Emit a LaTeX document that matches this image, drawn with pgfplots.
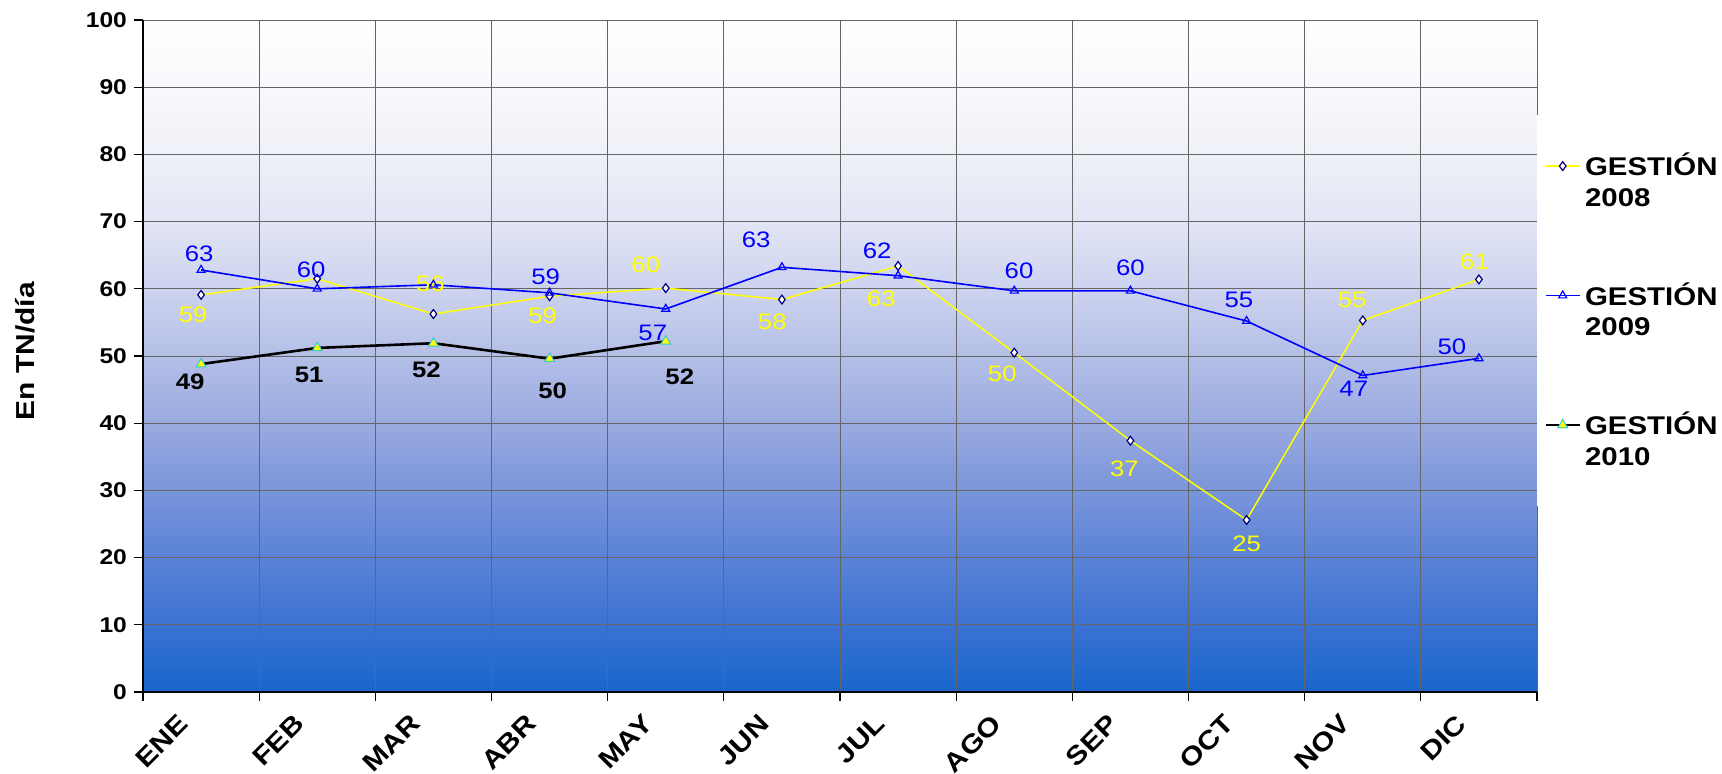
\documentclass[border=0pt]{standalone}
\usepackage{fontspec}
\setmainfont{Liberation Sans}[FakeStretch=1.15]
\usepackage{pgfplots}
\usepackage{pgfplotstable}
\pgfplotsset{compat=1.18}

\definecolor{amarillo}{HTML}{FFFF00}
\definecolor{azul}{HTML}{0000FF}
\definecolor{marino}{HTML}{000080}
\definecolor{turquesa}{HTML}{33CCCC}
% degradado del fondo, de abajo (0) a arriba (100)
\definecolor{g0}{HTML}{1866CC}
\definecolor{g10}{HTML}{3B72D2}
\definecolor{g20}{HTML}{5A82D6}
\definecolor{g30}{HTML}{7A95DA}
\definecolor{g40}{HTML}{9AAAE0}
\definecolor{g50}{HTML}{B4BFE7}
\definecolor{g60}{HTML}{CDD3EF}
\definecolor{g70}{HTML}{E2E5F4}
\definecolor{g80}{HTML}{EFF1F8}
\definecolor{g90}{HTML}{F8F9FC}
\definecolor{g100}{HTML}{FFFFFF}
\pgfdeclareverticalshading{fondo}{100bp}{color(0bp)=(g0); color(25bp)=(g0);
  color(30bp)=(g10); color(35bp)=(g20); color(40bp)=(g30); color(45bp)=(g40);
  color(50bp)=(g50); color(55bp)=(g60); color(60bp)=(g70); color(65bp)=(g80);
  color(70bp)=(g90); color(75bp)=(g100); color(100bp)=(g100)}

\newcommand\fdatos{\fontsize{11.2}{13}\selectfont}

% x valor etiqueta desplazamiento-x desplazamiento-y (pt)
\pgfplotstableread{
x y lab dx dy
1 59.1 59 -4 -10
2 61.5 {} 0 0
3 56.25 56 -1.5 15
4 58.9 59 -3.5 -10
5 60.1 60 -10 11.5
6 58.4 58 -4.8 -11.3
7 63.4 63 -8.4 -16.3
8 50.5 50 -6 -10.7
9 37.4 37 -3 -14.2
10 25.6 25 0 -11.7
11 55.3 55 -5.3 10.2
12 61.4 61 -2.2 8.7
}\gestionA

\pgfplotstableread{
x y lab dx dy
1 62.8 63 -1 8
2 60.0 60 -3 9.5
3 60.6 {} 0 0
4 59.4 59 -2 8
5 57.0 57 -6.5 -12
6 63.2 63 -12.9 14
7 61.95 62 -10.5 12.5
8 59.7 60 2.4 10
9 59.7 60 0 11.7
10 55.2 55 -3.8 10.5
11 47.1 47 -4.5 -6.7
12 49.65 50 -13.5 5.8
}\gestionB

\pgfplotstableread{
x y lab dx dy
1 48.8 49 -5.5 -9
2 51.2 51 -4 -13.5
3 51.9 52 -3.5 -13.5
4 49.6 50 1.5 -16
5 52.2 52 7 -18
}\gestionC

\begin{document}
\begin{tikzpicture}
\begin{axis}[
  scale only axis, width=697pt, height=336pt,
  at={(0,0)}, anchor=south west,
  xmin=0.5, xmax=12.5, ymin=0, ymax=100,
  axis x line*=bottom, axis y line*=left,
  axis line style={-, black, line width=0.9pt},
  axis background/.style={shade, shading=fondo},
  xtick={1,...,12},
  xticklabels={ENE,FEB,MAR,ABR,MAY,JUN,JUL,AGO,SEP,OCT,NOV,DIC},
  minor xtick={0.5,1.5,...,12.5},
  ytick={0,10,...,100},
  xmajorgrids=false, xminorgrids=true, ymajorgrids=true,
  grid style={black!60, line width=0.5pt},
  minor grid style={black!60, line width=0.5pt},
  tick align=outside,
  major tick length=4.5pt, minor tick length=4.5pt,
  tick style={black, line width=0.6pt},
  major x tick style={draw=none},
  /pgf/number format/assume math mode=true,
  yticklabel style={font=\fontsize{10.7}{12}\selectfont\bfseries},
  xticklabel style={font=\fontsize{13}{15}\selectfont\bfseries,
    xshift=-12pt, yshift=-1pt, rotate=45, anchor=north east},
  ylabel={En TN/día},
  every axis y label/.style={at={(axis description cs:-0.0846,0.507)},
    rotate=90, anchor=center, font=\fontsize{13}{15}\selectfont\bfseries},
  legend image code/.code={
    \draw[mark repeat=2, mark phase=2, #1] plot coordinates {(0pt,7.6pt) (8.5pt,7.6pt) (17pt,7.6pt)};
    \path (0pt,-7.6pt);},
  legend style={at={(rel axis cs:1,0.8586)}, anchor=north west,
    draw=none, fill=white, font=\fontsize{12.8}{15.2}\selectfont\bfseries,
    cells={align=left, anchor=west}, row sep=32.7pt,
    inner xsep=3.5pt, inner ysep=16.9pt},
  visualization depends on={\thisrow{dx} \as \dx},
  visualization depends on={\thisrow{dy} \as \dy},
  point meta=explicit symbolic,
]
\addplot[amarillo, line width=0.75pt, mark=diamond*,
  mark options={fill=white, draw=marino, line width=0.6pt, mark size=2.2pt},
  nodes near coords,
  nodes near coords style={anchor=center, xshift=\dx pt, yshift=\dy pt,
    text=amarillo, font=\fdatos}]
  table[x=x, y=y, meta=lab] {\gestionA};
\addlegendentry{GESTIÓN\\2008}

\addplot[azul, line width=0.8pt, mark=triangle,
  mark options={draw=azul, line width=0.6pt, mark size=2.3pt},
  nodes near coords,
  nodes near coords style={anchor=center, xshift=\dx pt, yshift=\dy pt,
    text=azul, font=\fdatos}]
  table[x=x, y=y, meta=lab] {\gestionB};
\addlegendentry{GESTIÓN\\2009}

\addplot[black, line width=1.3pt, mark=triangle*,
  mark options={fill=amarillo, draw=turquesa, line width=0.5pt, mark size=2.8pt},
  nodes near coords,
  nodes near coords style={anchor=center, xshift=\dx pt, yshift=\dy pt,
    text=black, font=\fdatos\bfseries}]
  table[x=x, y=y, meta=lab] {\gestionC};
\addlegendentry{GESTIÓN\\2010}
\end{axis}
\pgfresetboundingbox
\useasboundingbox (-71.5pt,-40.5pt) rectangle (789.5pt,346pt);
\end{tikzpicture}
\end{document}
